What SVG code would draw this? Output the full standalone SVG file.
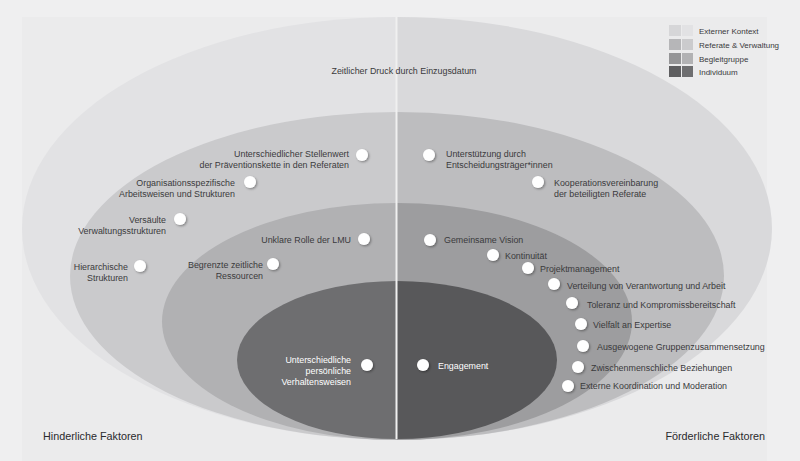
<svg xmlns="http://www.w3.org/2000/svg" width="800" height="461" viewBox="0 0 800 461">
<style>
text{font-family:"Liberation Sans",Arial,sans-serif;font-size:8.9px;fill:#3a3a3c}
.w{fill:#ffffff}
.e{text-anchor:end}
.big{font-size:10.8px;fill:#2a2a2c}
.lg{font-size:8px}
.dot{fill:#ffffff;filter:url(#sh)}
</style>
<defs>
<clipPath id="cl"><rect x="0" y="0" width="397" height="461"/></clipPath>
<clipPath id="cr"><rect x="397" y="0" width="403" height="461"/></clipPath>
<filter id="sh" x="-50%" y="-50%" width="200%" height="200%">
<feDropShadow dx="1.2" dy="1.2" stdDeviation="1" flood-color="#000" flood-opacity="0.35"/>
</filter>
</defs>
<rect x="0" y="0" width="800" height="461" fill="#efeff0"/>
<rect x="22" y="17" width="745" height="444" fill="#ebebec"/>
<g id="layers">
<g clip-path="url(#cl)">
<ellipse cx="397" cy="228.5" rx="375" ry="211.5" fill="#e2e2e4"/>
<ellipse cx="397" cy="276" rx="327" ry="164" fill="#cacacc"/>
<ellipse cx="397" cy="321.5" rx="235" ry="118.5" fill="#b1b1b3"/>
<ellipse cx="397" cy="360" rx="160" ry="79" fill="#6e6e70"/>
</g>
<g clip-path="url(#cr)">
<ellipse cx="397" cy="228.5" rx="375" ry="211.5" fill="#d9d9db"/>
<ellipse cx="397" cy="276" rx="327" ry="164" fill="#bdbdbf"/>
<ellipse cx="397" cy="321.5" rx="235" ry="118.5" fill="#9d9d9f"/>
<ellipse cx="397" cy="360" rx="160" ry="79" fill="#58585a"/>
</g>
<line x1="396.5" y1="17" x2="396.5" y2="439" stroke="#f0f0f0" stroke-width="2"/>
</g>
<g id="legend">
<rect x="669" y="25" width="12" height="11" fill="#d6d6d8"/><rect x="682" y="25" width="11" height="11" fill="#e2e2e4"/>
<rect x="669" y="39" width="12" height="11" fill="#b6b6b8"/><rect x="682" y="39" width="11" height="11" fill="#cbcbcd"/>
<rect x="669" y="53" width="12" height="11" fill="#959597"/><rect x="682" y="53" width="11" height="11" fill="#b2b2b4"/>
<rect x="669" y="66" width="12" height="11" fill="#5e5e60"/><rect x="682" y="66" width="11" height="11" fill="#6e6e70"/>
<text class="lg" x="699" y="34">Externer Kontext</text>
<text class="lg" x="699" y="48">Referate &amp; Verwaltung</text>
<text class="lg" x="699" y="62">Begleitgruppe</text>
<text class="lg" x="699" y="75">Individuum</text>
</g>
<g id="n-zeitdruck"><text x="404" y="74" text-anchor="middle">Zeitlicher Druck durch Einzugsdatum</text></g>
<g id="n-stellenwert"><circle class="dot" cx="362" cy="155" r="6"/><text class="e" x="349" y="157">Unterschiedlicher Stellenwert</text><text class="e" x="349" y="168">der Präventionskette in den Referaten</text></g>
<g id="n-organisation"><circle class="dot" cx="250" cy="182" r="6"/><text class="e" x="235" y="186">Organisationsspezifische</text><text class="e" x="235" y="197">Arbeitsweisen und Strukturen</text></g>
<g id="n-versaeult"><circle class="dot" cx="180" cy="219" r="6"/><text class="e" x="166" y="223">Versäulte</text><text class="e" x="166" y="234">Verwaltungsstrukturen</text></g>
<g id="n-lmu"><circle class="dot" cx="364" cy="239" r="6"/><text class="e" x="351" y="243">Unklare Rolle der LMU</text></g>
<g id="n-hierarchie"><circle class="dot" cx="140" cy="266" r="6"/><text class="e" x="128" y="270">Hierarchische</text><text class="e" x="128" y="281">Strukturen</text></g>
<g id="n-ressourcen"><circle class="dot" cx="273" cy="264" r="6"/><text class="e" x="263" y="268">Begrenzte zeitliche</text><text class="e" x="263" y="279">Ressourcen</text></g>
<g id="n-verhalten"><circle class="dot" cx="367" cy="365" r="6"/><text class="e w" x="351" y="363">Unterschiedliche</text><text class="e w" x="351" y="374">persönliche</text><text class="e w" x="351" y="385">Verhaltensweisen</text></g>
<g id="n-unterstuetzung"><circle class="dot" cx="429" cy="155" r="6"/><text x="446" y="157">Unterstützung durch</text><text x="446" y="168">Entscheidungsträger*innen</text></g>
<g id="n-kooperation"><circle class="dot" cx="538" cy="182" r="6"/><text x="554" y="186">Kooperationsvereinbarung</text><text x="554" y="197">der beteiligten Referate</text></g>
<g id="n-vision"><circle class="dot" cx="430" cy="240" r="6"/><text x="444" y="243">Gemeinsame Vision</text></g>
<g id="n-kontinuitaet"><circle class="dot" cx="493" cy="255" r="6"/><text x="505" y="259">Kontinuität</text></g>
<g id="n-projekt"><circle class="dot" cx="528" cy="268" r="6"/><text x="540" y="272">Projektmanagement</text></g>
<g id="n-verteilung"><circle class="dot" cx="554" cy="284" r="6"/><text x="567" y="289">Verteilung von Verantwortung und Arbeit</text></g>
<g id="n-toleranz"><circle class="dot" cx="572" cy="303" r="6"/><text x="587" y="308">Toleranz und Kompromissbereitschaft</text></g>
<g id="n-vielfalt"><circle class="dot" cx="581" cy="324" r="6"/><text x="593" y="328">Vielfalt an Expertise</text></g>
<g id="n-ausgewogen"><circle class="dot" cx="583" cy="346" r="6"/><text x="597" y="350">Ausgewogene Gruppenzusammensetzung</text></g>
<g id="n-zwischen"><circle class="dot" cx="578" cy="367" r="6"/><text x="591" y="371">Zwischenmenschliche Beziehungen</text></g>
<g id="n-extern"><circle class="dot" cx="568" cy="386" r="6"/><text x="580" y="389">Externe Koordination und Moderation</text></g>
<g id="n-engagement"><circle class="dot" cx="423" cy="365" r="6"/><text class="w" x="438" y="369">Engagement</text></g>
<g id="n-hinderlich"><text class="big" x="43" y="440">Hinderliche Faktoren</text></g>
<g id="n-foerderlich"><text class="big e" x="765" y="440">Förderliche Faktoren</text></g>
</svg>
